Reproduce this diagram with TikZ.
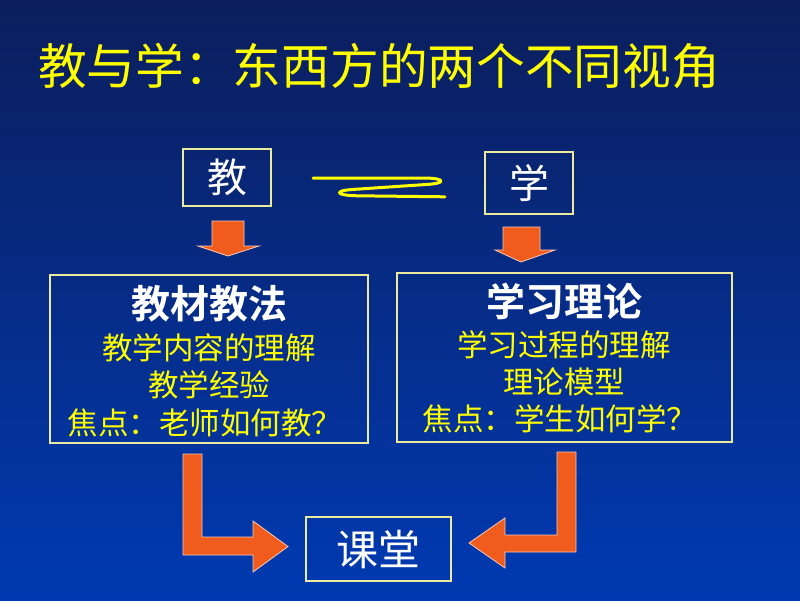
\documentclass[tikz,border=0pt]{standalone}
\usepackage{fontspec}
\setmainfont{Noto Sans CJK SC}
\newfontfamily\cjk{Noto Sans CJK SC}
\newfontfamily\cjkb{Noto Sans CJK SC Bold}
\begin{document}
\begin{tikzpicture}[x=1pt,y=-1pt]
\definecolor{bgtop}{RGB}{12,30,92}
\definecolor{bgbot}{RGB}{0,58,178}
\definecolor{boxline}{RGB}{235,235,160}
\definecolor{orng}{RGB}{240,92,30}
\definecolor{edge}{RGB}{250,200,180}
\definecolor{ylw}{RGB}{255,255,0}
\tikzset{
  box/.style={draw=boxline, line width=1.2pt, inner sep=0pt},
  small/.style={box, text=white, font=\cjk\fontsize{40}{42}\selectfont},
  ttl/.style={text=white, font=\cjkb\fontsize{39}{42}\selectfont},
  ln/.style={text=ylw, font=\cjk\fontsize{30.5}{33}\selectfont},
  blk/.style={fill=orng, draw=edge, line width=0.8pt, line join=miter},
}
\shade[top color=bgtop, bottom color=bgbot] (0,0) rectangle (800,600);
\useasboundingbox (0,0) rectangle (800,600);
% title
\node (title) [text=ylw, font=\cjk\fontsize{48.7}{52}\selectfont] at (379,66) {教与学：东西方的两个不同视角};
% top boxes
\node (jiao) [small, minimum width=88pt, minimum height=57pt] at (227,177.5) {教};
\node (xue) [small, minimum width=88pt, minimum height=62pt] at (529,183) {学};
% zigzag
\draw[ylw, line width=3pt, line cap=round, line join=round]
  (313,178) -- (426,178) .. controls (446,178.5) and (446,183.5) .. (426,184.5)
  -- (352,189.5) .. controls (333,191) and (336,195.5) .. (358,195.8) -- (445,196.8);
% down arrows
\draw[blk] (212,221) -- (244,221) -- (244,246) -- (259,246) -- (228,256) -- (198,246) -- (212,246) -- cycle;
\draw[blk] (503,227) -- (540,227) -- (540,250) -- (555,250) -- (521,262) -- (495,250) -- (503,250) -- cycle;
% big boxes
\node (lbox) [box, minimum width=318pt, minimum height=168pt] at (209,359) {};
\node (rbox) [box, minimum width=335pt, minimum height=169pt] at (564.5,357.5) {};
\node (lt) [ttl] at (209,304) {教材教法};
\node (l1) [ln] at (209,348) {教学内容的理解};
\node (l2) [ln] at (209,385) {教学经验};
\node (l3) [ln] at (205,423) {焦点：老师如何教？};
\node (rt) [ttl] at (564,301) {学习理论};
\node (r1) [ln] at (564,345) {学习过程的理解};
\node (r2) [ln] at (564,382) {理论模型};
\node (r3) [ln] at (560,419) {焦点：学生如何学？};
% bottom box
\node (ketang) [box, text=white, font=\cjk\fontsize{42}{44}\selectfont, minimum width=145pt, minimum height=64pt] at (378.5,549) {课堂};
% L arrows
\draw[blk] (183,454) -- (202,454) -- (202,537) -- (253,537) -- (253,521) -- (288,546.5) -- (253,572) -- (253,555) -- (183,555) -- cycle;
\draw[blk] (557,452) -- (576,452) -- (576,552) -- (505,552) -- (505,568) -- (469,543) -- (505,518) -- (505,535) -- (557,535) -- cycle;
\end{tikzpicture}
\end{document}
